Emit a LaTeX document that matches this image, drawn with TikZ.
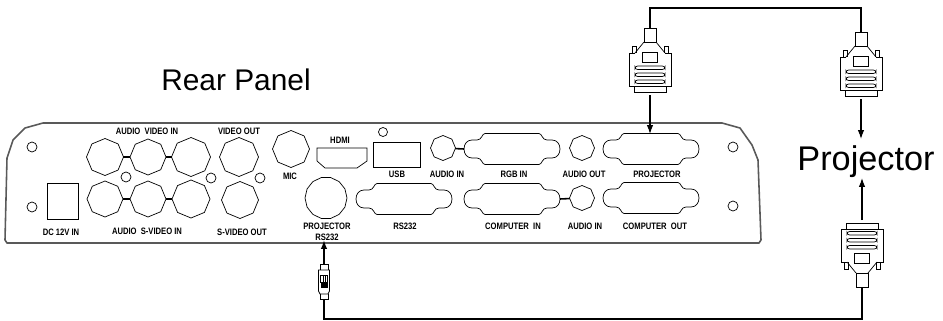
\documentclass[tikz,border=0pt]{standalone}
\usepackage{fontspec}
\setmainfont{Liberation Sans}
\newfontfamily\labfont[FakeStretch=0.82]{Liberation Sans}
\usetikzlibrary{arrows.meta,shapes.geometric}
\tikzset{
  octport/.style={regular polygon, regular polygon sides=8, shape border rotate=22.5, draw, inner sep=0pt, outer sep=0pt, minimum size=#1*0.04cm},
  roundport/.style={regular polygon, regular polygon sides=14, draw, inner sep=0pt, outer sep=0pt, minimum size=#1*0.04cm},
  hole/.style={circle, draw, inner sep=0pt, minimum size=#1*0.04cm},
  lab/.style={font=\labfont\bfseries\fontsize{5.3pt}{6pt}\selectfont, inner sep=0pt},
  title/.style={font=\fontsize{17pt}{18pt}\selectfont, inner sep=0pt},
  link/.style={line width=0.9pt},
  cable/.style={line width=1.1pt},
  wire/.style={-{Latex[length=5pt,width=3.6pt]}, line width=0.6pt},
  pics/dsub/.style={code={
    \foreach \sx/\sy in {1/1,1/-1,-1/1,-1/-1}
      \draw[xscale=\sx, yscale=\sy] (0,15.5) -- (27,15.5) .. controls (30,15.5) and (30,9) .. (35,9)
        -- (40,9) .. controls (45,9) and (48,5) .. (48,0);
    \coordinate (-top) at (0,-15);
    \coordinate (-west) at (-48,0);
    \coordinate (-east) at (48,0);
  }},
  pics/dbplug/.style={code={
    \draw (-6,0) rectangle (6,14);
    \draw (-6,14) -- (-15,25) (6,14) -- (15,25);
    \draw (-15,25) -- (-21,25) -- (-21,58) -- (21,58) -- (21,25) -- (15,25);
    \draw (-16,58) -- (-16,64) -- (16,64) -- (16,58);
    \draw (-18,25) -- (-18,18) -- (-14,18) -- (-14,25);
    \draw (18,25) -- (18,18) -- (14,18) -- (14,25);
    \draw (-8,24) rectangle (7,34);
    \foreach \ys in {38,45,52}
      \draw[rounded corners=1.5] (-15,\ys) rectangle (15,\ys+3.5);
    \coordinate (-cable) at (0,0);
    \coordinate (-out) at (0,67);
  }},
  pics/dinplug/.style={code={
    \draw (-4,6) -- (-4,0) -- (4,0) -- (4,6);
    \draw (-5.5,6) -- (5.5,6) -- (5.5,27) -- (4,30) -- (-4,30) -- (-5.5,27) -- cycle;
    \draw (-4,30) -- (-4,35) -- (4,35) -- (4,30);
    \draw (-3.5,11) rectangle (3.5,18);
    \draw (-1,11) -- (-1,18) (1,11) -- (1,18);
    \fill (-3.5,19) rectangle (3.5,24);
    \coordinate (-top) at (0,0);
    \coordinate (-cable) at (0,35);
  }},
}
\begin{document}
\begin{tikzpicture}[x=0.02cm, y=-0.02cm]
\useasboundingbox (0,0) rectangle (943,321);
% panel
\draw[black!65, line width=0.9pt, line join=round] (43,123) -- (722,123) -- (740,128) -- (752,145) -- (758,160) -- (761,240)
  -- (759,243) -- (7,243) -- (5,240) -- (7,158) -- (13,140) -- (25,128) -- cycle;
\node[title] (rear) at (236,80) {Rear Panel};
\node[title, font=\fontsize{19.5pt}{20pt}\selectfont] (proj) at (866,162) {Projector};
% round connectors
\node[octport=18.5] (audl) at (105,157) {};
\node[octport=18] (vidc) at (148,157) {};
\node[octport=19.5] (vidr) at (191,157) {};
\node[octport=19.5] (vout) at (239,157) {};
\node[octport=18.5] (mic) at (291,149) {};
\node[octport=18] (audd) at (105,199) {};
\node[octport=18] (svidc) at (148,199) {};
\node[octport=19] (svidr) at (191,199) {};
\node[octport=18.5] (svout) at (240,200) {};
\node[roundport=21] (prs) at (326,198) {};
\node[octport=12.5] (ain) at (443,148) {};
\node[octport=12.5] (aout) at (582,148) {};
\node[octport=12.5] (ainb) at (582,198) {};
\draw[link] (audl) -- (vidc);
\draw[link] (vidc) -- (vidr);
\draw[link] (audd) -- (svidc);
\draw[link] (svidc) -- (svidr);
% holes
\node[hole=5] (h1) at (32,147) {};
\node[hole=5] (h2) at (32,207) {};
\node[hole=5] (h3) at (126,177) {};
\node[hole=5] (h4) at (211,178) {};
\node[hole=5] (h5) at (260,178) {};
\node[hole=4.5] (h6) at (383,132) {};
\node[hole=5] (h7) at (733,147) {};
\node[hole=5] (h8) at (733,206) {};
% power, hdmi, usb
\node[draw, inner sep=0pt, minimum width=0.62cm, minimum height=0.72cm] (dc) at (62.5,201) {};
\node[draw, inner sep=0pt, minimum width=0.94cm, minimum height=0.5cm] (usb) at (396.5,154.5) {};
\draw (317,148) -- (367,148) -- (367,161) -- (357,168) -- (325,168) -- (317,161) -- cycle;
% d-sub connectors
\pic (rgb) at (512,149) {dsub};
\pic (rs) at (404,199) {dsub};
\pic (comin) at (512,199) {dsub};
\pic (portproj) at (651,149) {dsub};
\pic (comout) at (651,198) {dsub};
\draw[link] (ain) -- (rgb-west);
\draw[link] (comin-east) -- (ainb);
% labels
\node[lab] (l1) at (147,131) {AUDIO\ \ VIDEO IN};
\node[lab] (l2) at (239,131) {VIDEO OUT};
\node[lab] (l3) at (290,176) {MIC};
\node[lab] (l4) at (61,232) {DC 12V IN};
\node[lab] (l5) at (147,231) {AUDIO\ \ S-VIDEO IN};
\node[lab] (l6) at (242,232) {S-VIDEO OUT};
\node[lab] (l7) at (340,140) {HDMI};
\node[lab] (l8) at (397,174) {USB};
\node[lab] (l9) at (447,174) {AUDIO IN};
\node[lab] (l10) at (514,174) {RGB IN};
\node[lab] (l11) at (327,226) {PROJECTOR};
\node[lab] (l12) at (327,237) {RS232};
\node[lab] (l13) at (405,226) {RS232};
\node[lab] (l14) at (513,226) {COMPUTER\ \ IN};
\node[lab] (l15) at (585,226) {AUDIO IN};
\node[lab] (l16) at (655,226) {COMPUTER\ \ OUT};
\node[lab] (l17) at (584,174) {AUDIO OUT};
\node[lab] (l18) at (657,174) {PROJECTOR};
% plugs and cables
\pic (plugp) at (650,28) {dbplug};
\pic (plugq) at (861,32) {dbplug};
\pic[yscale=-1] (plugc) at (862,287) {dbplug};
\pic (din) at (324,264) {dinplug};
\coordinate (cornerq) at (861,8);
\coordinate (cornerc) at (862,319);
\coordinate (prsend) at (324,240);
\coordinate (projtop) at (861,139);
\coordinate (projbot) at (862,178);
\draw[cable] (plugp-cable) |- (cornerq) -- (plugq-cable);
\draw[cable] (din-cable) |- (cornerc) -- (plugc-cable);
\draw[wire] (plugp-out) -- (plugp-out |- portproj-top);
\draw[wire] (plugq-out) -- (projtop);
\draw[wire] (plugc-out) -- (projbot);
\draw[wire, line width=0.9pt] (din-top) -- (prsend);
\end{tikzpicture}
\end{document}
